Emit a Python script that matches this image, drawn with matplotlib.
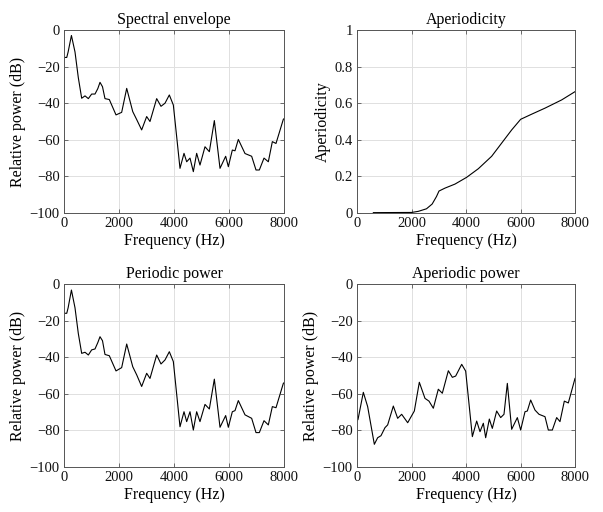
import matplotlib
matplotlib.use('Agg')
import matplotlib.pyplot as plt

plt.rcParams['font.family'] = ['Liberation Serif', 'DejaVu Serif']
plt.rcParams['font.size'] = 11

# ---- data ----
env_freq = [0, 100, 150, 270, 400, 520, 643, 764, 885, 1006, 1127, 1230, 1309, 1400, 1490,
            1648, 1891, 2097, 2280, 2500, 2645, 2824, 3006, 3127, 3370, 3527, 3673, 3830,
            3976, 4218, 4364, 4461, 4582, 4703, 4824, 4945, 5127, 5285, 5467, 5673, 5879,
            5976, 6121, 6218, 6339, 6582, 6824, 6982, 7103, 7273, 7430, 7576, 7709, 7976, 8000]
env_db = [-15, -15, -12, -3, -12, -26, -37.3, -36, -37.5, -35, -35, -32, -28.6, -31, -37.5,
          -38, -46.4, -45, -31.9, -44.6, -49, -54.6, -47.3, -50, -37.5, -41.7, -40, -35.5,
          -41, -75.6, -67.4, -72, -70, -77.4, -67.4, -73.8, -63.8, -66.5, -49.5, -75.6, -69,
          -74.7, -65.6, -66, -59.8, -67.5, -69, -76.5, -76.5, -70, -72, -61, -62, -48.8, -48.5]

per_db = [-16, -16, -13, -3.3, -13, -27, -37.9, -37.3, -38.8, -36, -35.5, -32, -28.8, -31, -38.5,
          -39.2, -47.5, -45.7, -32.8, -45.2, -49.7, -56, -48.8, -51.6, -38.8, -43.7, -41.5, -37,
          -42.4, -78, -69.8, -75.2, -69.8, -79.8, -69.8, -75.2, -65.8, -68.3, -52, -78.3, -71.9,
          -78.3, -69.8, -69.2, -63.7, -71.5, -73.4, -81.2, -81.2, -74.7, -77, -67, -67.6, -54.3, -54]

aper_freq = [0, 37, 232, 391, 636, 758, 880, 1027, 1125, 1333, 1492, 1639, 1860, 2104, 2287,
             2495, 2642, 2801, 2984, 3131, 3352, 3499, 3621, 3842, 3988, 4233, 4392, 4514,
             4636, 4722, 4856, 4966, 5125, 5272, 5394, 5517, 5676, 5884, 6006, 6165, 6251,
             6373, 6532, 6679, 6899, 7021, 7168, 7327, 7449, 7608, 7755, 8000]
aper_db = [-74.9, -74, -59.2, -67, -87.6, -84, -82.9, -78.5, -77, -66.7, -73.4, -71.2, -75.8,
           -69.4, -53.7, -62.5, -64, -67.9, -57.5, -59.7, -47.4, -51, -50.3, -43.9, -47.6,
           -83.4, -74.9, -80.7, -76.1, -84, -73.8, -78.9, -69.4, -73, -71.2, -54.3, -79.4,
           -73, -79.8, -69.8, -69.4, -63.4, -68.9, -71.2, -72.5, -79.8, -79.8, -73, -75.2,
           -64, -65, -51.6]

ap_freq = [600, 2000, 2250, 2550, 2758, 2917, 3009, 3229, 3596, 4024, 4453, 4942, 5309,
           5676, 6006, 6410, 6899, 7511, 8000]
ap_val = [0.002, 0.003, 0.009, 0.023, 0.049, 0.09, 0.12, 0.136, 0.158, 0.195, 0.242, 0.31,
          0.382, 0.454, 0.512, 0.54, 0.573, 0.618, 0.663]

freq_ticks = [0, 2000, 4000, 6000, 8000]
db_ticks = [-100, -80, -60, -40, -20, 0]
ap_ticks = [0, 0.2, 0.4, 0.6, 0.8, 1]


def _style(ax, title, ylabel):
    ax.set_title(title, fontsize=11.5, pad=4)
    ax.set_xlabel('Frequency (Hz)', fontsize=11.5, labelpad=2)
    ax.set_ylabel(ylabel, fontsize=11.5, labelpad=3)
    ax.set_xlim(0, 8000)
    ax.set_xticks(freq_ticks)
    ax.grid(True, color='#e0e0e0', linewidth=0.7)
    ax.set_axisbelow(True)
    ax.tick_params(direction='in', length=3, width=0.6, top=True, right=True,
                   colors='#555555', labelcolor='#111111', labelsize=10.5, pad=3)
    for s in ax.spines.values():
        s.set_color('#555555')
        s.set_linewidth(0.7)


fig = plt.figure(figsize=(6.03, 5.12), dpi=100)
W, H = 603, 512
ax1 = fig.add_axes([64 / W, 1 - 213 / H, 220 / W, 183 / H])
ax2 = fig.add_axes([357 / W, 1 - 213 / H, 218 / W, 183 / H])
ax3 = fig.add_axes([64 / W, 1 - 467 / H, 220 / W, 183 / H])
ax4 = fig.add_axes([357 / W, 1 - 467 / H, 218 / W, 183 / H])

ax1.plot(env_freq, env_db, color='black', linewidth=0.8)
_style(ax1, 'Spectral envelope', 'Relative power (dB)')
ax1.set_ylim(-100, 0)
ax1.set_yticks(db_ticks)

ax2.plot(ap_freq, ap_val, color='black', linewidth=0.8)
_style(ax2, 'Aperiodicity', 'Aperiodicity')
ax2.set_ylim(0, 1)
ax2.set_yticks(ap_ticks)
ax2.set_yticklabels(['0', '0.2', '0.4', '0.6', '0.8', '1'])

ax3.plot(env_freq, per_db, color='black', linewidth=0.8)
_style(ax3, 'Periodic power', 'Relative power (dB)')
ax3.set_ylim(-100, 0)
ax3.set_yticks(db_ticks)

ax4.plot(aper_freq, aper_db, color='black', linewidth=0.8)
_style(ax4, 'Aperiodic power', 'Relative power (dB)')
ax4.set_ylim(-100, 0)
ax4.set_yticks(db_ticks)

fig.savefig('out.png', dpi=100, facecolor='white')
plt.close(fig)
